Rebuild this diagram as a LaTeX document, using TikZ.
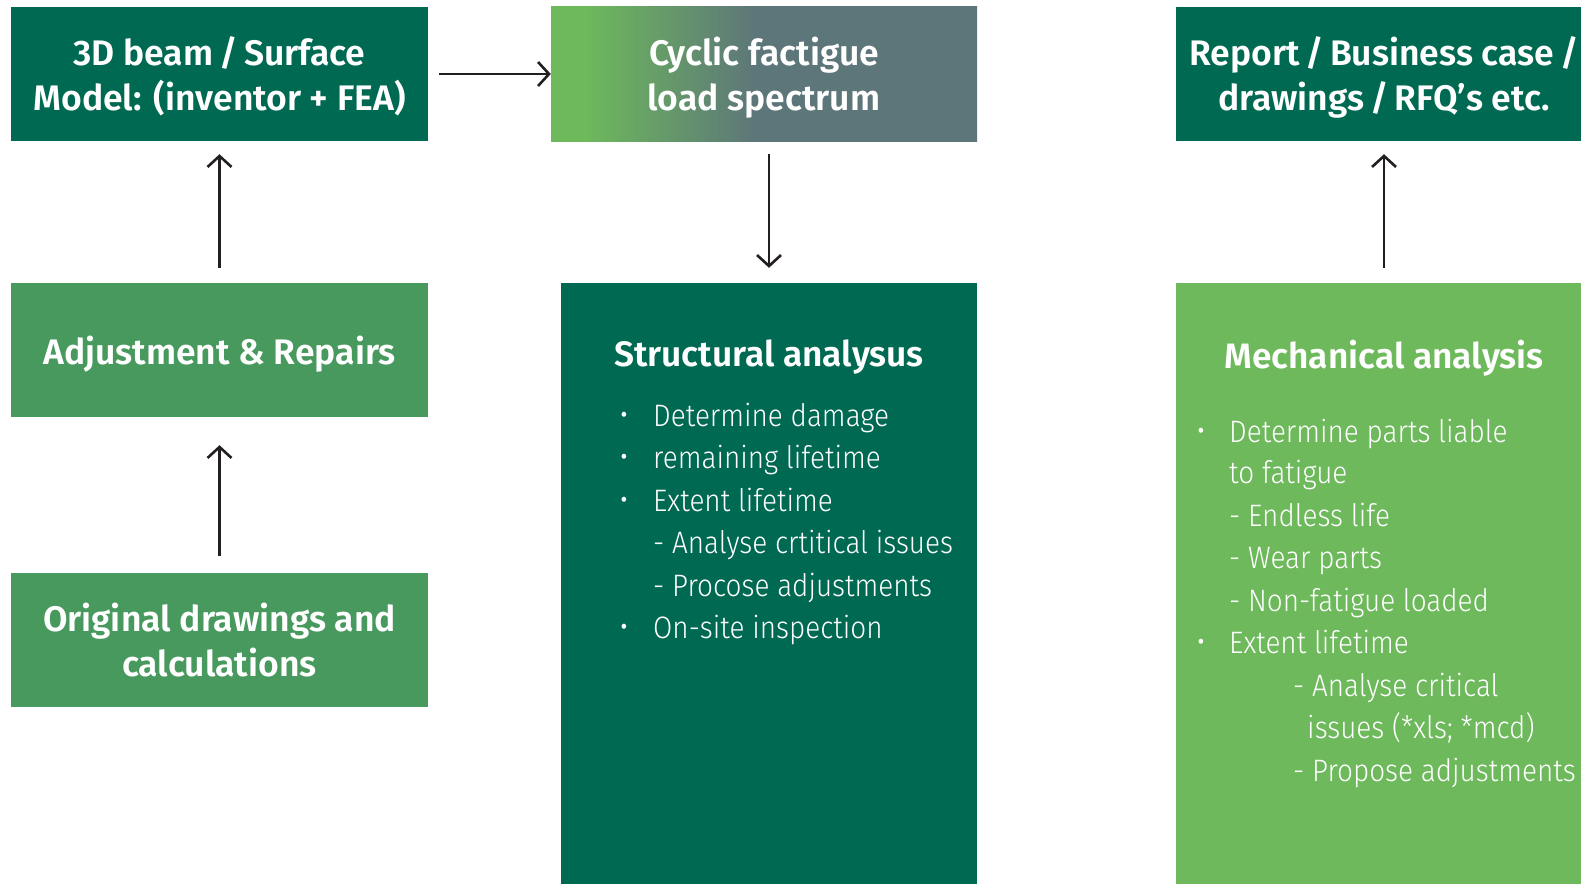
\documentclass[tikz,border=0pt]{standalone}
\usepackage{fontspec}
\setmainfont{Fira Sans}[UprightFont=* Light, BoldFont=* SemiBold]
\newfontfamily\lightf{Fira Sans Light}[FakeStretch=0.9]
\newcommand{\slsh}{\hspace{0.17em}/\hspace{0.17em}}
\usetikzlibrary{arrows.meta}
\definecolor{dgreen}{RGB}{0,105,82}
\definecolor{mgreen}{RGB}{72,153,94}
\definecolor{lgreen}{RGB}{109,185,92}
\definecolor{slate}{RGB}{93,118,121}
\definecolor{arrowc}{RGB}{35,31,32}
\pgfdeclarehorizontalshading{cyclicshade}{100bp}{color(0bp)=(lgreen); color(29bp)=(lgreen); color(49bp)=(slate); color(100bp)=(slate)}
\begin{document}
\begin{tikzpicture}[x=1pt,y=-1pt,
  box/.style={minimum width=417pt, minimum height=134pt, inner sep=0pt, text=white, align=center,
              text depth=0pt, font=\bfseries\fontsize{35.5}{45}\selectfont},
  tall/.style={minimum width=416pt, minimum height=640pt, inner sep=0pt},
  ttl/.style={text=white, inner sep=0pt, anchor=base, font=\bfseries\fontsize{35.3}{40}\selectfont},
  item/.style={text=white, inner sep=0pt, anchor=base west, font=\lightf\fontsize{31}{40}\selectfont},
  bul/.style={text=white, inner sep=0pt, anchor=base, font=\lightf\fontsize{34}{40}\selectfont},
  arr/.style={-{Straight Barb[length=11pt,width=24pt]}, line width=2.6pt, draw=arrowc}]
\useasboundingbox (0,0) rectangle (1581,883);
\clip (0,0) rectangle (1581,883);
\fill[white] (0,0) rectangle (1581,883);
% top row
\node[box, fill=dgreen] (A) at (219.5,74) {3D beam\slsh Surface\\Model: (inventor + FEA)};
\node[box, shading=cyclicshade, minimum width=426pt] (B) at (764,74) {Cyclic factigue\\load spectrum};
\node[box, fill=dgreen, minimum width=416pt] (C) at (1384,74) {Report\slsh Business case\slsh\\drawings\slsh RFQ’s etc.};
% left column
\node[box, fill=mgreen] (adj) at (219.5,350) {Adjustment \& Repairs};
\node[box, fill=mgreen] (orig) at (219.5,639.5) {Original drawings and\\calculations};
% tall boxes
\node[tall, fill=dgreen] (st) at (769,603) {};
\node[tall, fill=lgreen] (me) at (1384,603) {};
% structural analysis text
\node[ttl] (stt) at (769,366) {Structural analysus};
\node[bul] (sb1) at (624,426) {•};
\node[item] (s1) at (653,426) {Determine damage};
\node[bul] (sb2) at (624,468) {•};
\node[item] (s2) at (653,468) {remaining lifetime};
\node[bul] (sb3) at (624,511) {•};
\node[item] (s3) at (653,511) {Extent lifetime};
\node[item] (s4) at (653,553) {- Analyse crtitical issues};
\node[item] (s5) at (653,596) {- Procose adjustments};
\node[bul] (sb6) at (624,638) {•};
\node[item] (s6) at (653,638) {On-site inspection};
% mechanical analysis text
\node[ttl] (met) at (1384,368) {Mechanical analysis};
\node[bul] (mb1) at (1201,442) {•};
\node[item] (m1) at (1229,442) {Determine parts liable};
\node[item] (m2) at (1229,483) {to fatigue};
\node[item] (m3) at (1229,526) {- Endless life};
\node[item] (m4) at (1229,568) {- Wear parts};
\node[item] (m5) at (1229,611) {- Non-fatigue loaded};
\node[bul] (mb6) at (1201,653) {•};
\node[item] (m6) at (1229,653) {Extent lifetime};
\node[item] (m7) at (1293,696) {- Analyse critical};
\node[item] (m8) at (1307,738) {issues (*xls; *mcd)};
\node[item] (m9) at (1293,781) {- Propose adjustments};
% connectors
\draw[arr, shorten <=11pt] (A.east) -- (B.west);
\draw[arr, shorten <=13pt, shorten >=15pt] (B.south -| st.north) -- (st.north);
\draw[arr, shorten <=15pt, shorten >=13pt] (adj.north) -- (A.south);
\draw[arr, shorten <=16pt, shorten >=28pt] (orig.north) -- (adj.south);
\draw[arr, shorten <=15pt, shorten >=13pt] (me.north) -- (C.south);
\end{tikzpicture}
\end{document}
